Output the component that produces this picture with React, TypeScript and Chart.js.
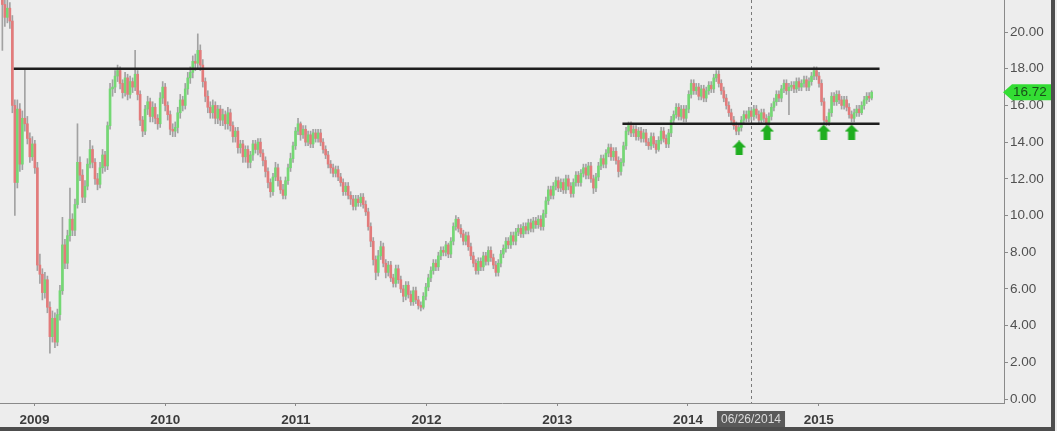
import React, { useEffect, useRef } from 'react';
import { Chart, registerables } from 'chart.js';

Chart.register(...registerables);

// ---- data (weekly bars, first week starting 2008-10-03) ----
const weekStartDate = '2008-10-03';
const firstOpen = 22.2;

const closes = [
  21.5, 20.8, 21.3, 20.6, 16.0, 11.8, 15.8, 12.8, 15.3, 15.0,
  14.2, 13.2, 13.9, 12.6, 7.3, 6.8, 5.8, 6.5, 5.0, 3.4,
  4.4, 3.1, 4.6, 5.9, 8.4, 7.4, 8.9, 9.8, 9.2, 10.6,
  12.9, 12.2, 11.0, 11.6, 12.8, 13.6, 12.9, 12.0, 11.7, 12.6,
  13.3, 12.7, 14.9, 16.9, 17.0, 17.6, 17.9, 17.2, 16.7, 17.5,
  16.6, 17.3, 17.0, 17.7, 16.6, 15.2, 14.6, 15.8, 16.2, 15.4,
  15.9, 15.3, 15.0, 16.4, 17.0, 16.0, 15.5, 14.7, 14.6, 14.8,
  15.6, 16.3, 16.0, 16.9, 17.5, 17.8, 18.4, 18.3, 19.0, 18.2,
  17.3, 16.5, 15.9, 15.6, 16.0, 15.3, 15.8, 15.2, 15.5, 15.0,
  15.6, 14.9, 14.3, 14.6, 13.7, 13.9, 13.2, 13.6, 12.9, 13.3,
  13.9, 13.6, 14.0, 13.4, 13.0, 12.4, 11.8, 11.3, 12.1, 12.6,
  11.9, 11.4, 11.1, 11.9, 12.6, 13.1, 13.8, 14.6, 15.0, 14.4,
  14.7, 14.0, 14.4, 13.9, 14.5, 14.2, 14.5, 14.0, 13.6, 13.3,
  12.8, 12.6, 12.3, 12.5, 12.1, 11.8, 11.3, 11.6, 11.1, 10.9,
  10.5, 10.9, 10.7, 11.0, 10.6, 10.2, 9.4, 8.6, 7.6, 6.9,
  7.8, 8.3, 7.4, 6.9, 7.3, 6.6, 6.3, 7.1, 6.5, 6.0,
  5.6, 6.2, 5.7, 5.3, 5.9, 5.4, 5.1, 5.0, 5.6, 6.1,
  6.6, 7.0, 7.4, 7.2, 7.8, 8.1, 8.0, 8.4, 7.9, 8.6,
  9.4, 9.8, 9.3, 9.0, 8.6, 8.9, 8.3, 7.8, 7.4, 7.0,
  7.5, 7.2, 7.8, 7.5, 8.1, 7.7, 7.3, 6.9, 7.4, 7.9,
  8.2, 8.6, 8.4, 8.9, 8.6, 9.1, 9.3, 9.0, 9.4, 9.2,
  9.6, 9.3, 9.7, 9.5, 9.8, 9.4, 10.1, 10.8, 11.4, 11.1,
  11.6, 11.9, 11.5, 11.8, 11.4, 12.0, 11.6, 11.2, 11.8, 12.2,
  11.8, 12.3, 12.6, 12.2, 12.7, 12.0, 11.5, 12.1, 12.7, 13.1,
  12.8, 13.4, 13.7, 13.2, 13.5, 13.0, 12.4, 12.9, 13.8, 14.6,
  14.9, 14.5, 14.7, 14.3, 14.6, 14.2, 14.5, 14.0, 13.8, 14.3,
  13.9, 13.6, 14.1, 14.6, 14.2, 13.9, 14.5, 15.2, 15.5, 15.9,
  15.4, 15.8, 15.3, 15.8, 16.6, 17.2, 16.8, 17.0, 16.5, 16.9,
  16.4, 16.8, 17.1, 16.9, 17.5, 17.7, 17.2, 16.8, 16.4, 16.0,
  15.6, 15.2, 14.9, 14.6, 14.8, 15.2, 15.5, 15.3, 15.7, 15.4,
  15.8, 15.5, 15.2, 15.6, 15.3, 15.0, 15.4, 15.9, 16.2, 16.6,
  16.4, 16.9, 17.2, 16.8, 17.0, 17.1, 16.9, 17.3, 17.0, 17.2,
  17.4, 17.0, 17.3, 17.6, 17.9, 17.6, 17.2, 16.2, 15.2, 15.1,
  15.6, 16.5, 16.2, 16.6, 16.3, 16.0, 16.3, 15.9, 15.5, 15.3,
  15.6, 15.8, 15.6, 16.0, 16.3, 16.5, 16.4, 16.72,
];

const highs = [
  22.8, 22.0, 21.9, 21.6, 20.9, 16.3, 16.3, 16.1, 15.7, 18.0,
  15.4, 14.5, 14.3, 14.1, 12.9, 7.9, 7.1, 6.9, 6.7, 5.3,
  4.8, 4.7, 4.9, 6.2, 9.9, 8.7, 9.2, 11.5, 10.1, 10.9,
  15.0, 13.2, 12.5, 11.9, 13.1, 14.1, 13.8, 13.1, 12.3, 12.9,
  13.6, 13.5, 15.1, 17.2, 17.4, 17.9, 18.2, 18.1, 17.4, 17.8,
  17.7, 17.6, 17.5, 19.0, 17.9, 16.8, 15.4, 16.0, 16.5, 16.4,
  16.2, 16.1, 15.5, 16.7, 17.3, 17.2, 16.2, 15.7, 15.0, 15.1,
  15.9, 16.6, 16.5, 17.2, 17.8, 18.1, 18.7, 18.8, 19.9, 19.3,
  18.5, 17.5, 16.8, 16.2, 16.3, 16.2, 16.0, 16.0, 15.8, 15.7,
  15.9, 15.8, 15.1, 14.8, 14.8, 14.1, 14.1, 13.8, 13.8, 13.5,
  14.1, 14.1, 14.2, 14.2, 13.6, 13.2, 12.6, 12.0, 12.3, 12.9,
  12.8, 12.1, 11.7, 12.1, 12.8, 13.4, 14.0, 14.8, 15.3, 15.1,
  14.9, 14.9, 14.6, 14.6, 14.7, 14.7, 14.7, 14.7, 14.2, 13.8,
  13.5, 13.0, 12.8, 12.7, 12.7, 12.3, 12.0, 11.8, 11.8, 11.3,
  11.1, 11.1, 11.1, 11.2, 11.2, 10.8, 10.4, 9.6, 8.8, 7.8,
  8.1, 8.6, 8.5, 7.6, 7.5, 7.5, 6.8, 7.3, 7.3, 6.7,
  6.2, 6.4, 6.4, 5.9, 6.1, 6.1, 5.6, 5.3, 5.8, 6.3,
  6.8, 7.2, 7.6, 7.6, 8.0, 8.3, 8.3, 8.6, 8.5, 8.8,
  9.6, 10.0, 9.9, 9.5, 9.2, 9.1, 9.1, 8.5, 8.0, 7.6,
  7.7, 7.7, 8.0, 8.0, 8.3, 8.3, 7.9, 7.5, 7.6, 8.1,
  8.4, 8.8, 8.8, 9.1, 9.1, 9.3, 9.5, 9.5, 9.6, 9.6,
  9.8, 9.8, 9.9, 9.9, 10.0, 10.0, 10.3, 11.0, 11.6, 11.6,
  11.8, 12.1, 12.1, 12.0, 12.0, 12.2, 12.2, 11.8, 12.0, 12.4,
  12.4, 12.5, 12.8, 12.8, 12.9, 12.9, 12.2, 12.3, 12.9, 13.3,
  13.3, 13.6, 13.9, 13.9, 13.7, 13.7, 13.2, 13.1, 14.0, 14.8,
  15.1, 15.1, 14.9, 14.9, 14.8, 14.8, 14.7, 14.7, 14.2, 14.5,
  14.5, 14.1, 14.3, 14.8, 14.8, 14.4, 14.7, 15.4, 15.7, 16.1,
  16.1, 16.0, 16.0, 16.0, 16.8, 17.4, 17.4, 17.2, 17.2, 17.1,
  17.1, 17.0, 17.3, 17.3, 17.7, 17.9, 17.9, 17.4, 17.0, 16.6,
  16.2, 15.8, 15.4, 15.1, 15.0, 15.4, 15.7, 15.7, 15.9, 15.9,
  16.0, 16.0, 15.7, 15.8, 15.8, 15.5, 15.6, 16.1, 16.4, 16.8,
  16.8, 17.1, 17.4, 17.4, 17.2, 17.3, 17.3, 17.5, 17.5, 17.4,
  17.6, 17.6, 17.5, 17.8, 18.1, 18.1, 17.8, 17.4, 16.4, 15.4,
  15.8, 16.7, 16.7, 16.8, 16.8, 16.5, 16.5, 16.5, 16.1, 15.7,
  15.8, 16.0, 16.0, 16.2, 16.5, 16.7, 16.7, 16.8,
];

const lows = [
  19.0, 20.3, 20.5, 20.2, 15.6, 10.0, 11.5, 12.4, 12.5, 14.6,
  13.9, 12.9, 13.0, 12.3, 7.0, 6.3, 5.4, 5.5, 4.7, 2.5,
  3.1, 2.8, 2.9, 4.3, 5.7, 7.1, 7.1, 8.6, 8.9, 8.9,
  10.4, 11.9, 10.7, 10.7, 11.4, 12.6, 12.6, 11.7, 11.4, 11.5,
  12.3, 12.4, 12.5, 14.7, 16.5, 16.7, 17.3, 16.9, 16.4, 16.5,
  16.3, 16.4, 16.7, 16.8, 16.3, 14.9, 14.3, 14.4, 15.5, 15.1,
  15.1, 15.0, 14.7, 14.8, 16.1, 15.7, 15.2, 14.4, 14.3, 14.3,
  14.5, 15.3, 15.7, 15.8, 16.6, 17.2, 17.5, 17.9, 18.0, 17.9,
  17.0, 16.2, 15.6, 15.3, 15.3, 15.0, 15.0, 14.9, 14.9, 14.7,
  14.7, 14.6, 14.0, 14.0, 13.4, 13.4, 12.9, 12.9, 12.6, 12.6,
  13.0, 13.4, 13.3, 13.2, 12.7, 12.1, 11.5, 11.0, 11.1, 11.9,
  11.6, 11.2, 10.9, 10.9, 11.7, 12.4, 12.9, 13.6, 14.4, 14.1,
  14.2, 13.8, 13.8, 13.7, 13.7, 14.0, 14.0, 13.8, 13.4, 13.1,
  12.6, 12.3, 12.1, 12.1, 11.9, 11.6, 11.1, 11.1, 10.9, 10.6,
  10.3, 10.3, 10.5, 10.5, 10.4, 10.0, 9.2, 8.3, 7.3, 6.5,
  6.7, 7.6, 7.2, 6.6, 6.7, 6.4, 6.1, 6.1, 6.3, 5.8,
  5.3, 5.4, 5.5, 5.1, 5.1, 5.2, 4.9, 4.8, 4.9, 5.4,
  5.9, 6.4, 6.8, 7.0, 7.0, 7.6, 7.8, 7.8, 7.7, 7.7,
  8.4, 9.2, 9.1, 8.8, 8.4, 8.4, 8.1, 7.6, 7.2, 6.8,
  6.8, 7.0, 7.0, 7.3, 7.3, 7.5, 7.1, 6.7, 6.7, 7.2,
  7.7, 8.0, 8.2, 8.2, 8.4, 8.4, 8.9, 8.8, 8.8, 9.0,
  9.0, 9.1, 9.1, 9.3, 9.3, 9.2, 9.2, 9.9, 10.6, 10.9,
  10.9, 11.4, 11.3, 11.3, 11.2, 11.2, 11.4, 11.0, 11.0, 11.6,
  11.6, 11.6, 12.1, 12.0, 12.0, 11.8, 11.2, 11.3, 11.9, 12.5,
  12.6, 12.6, 13.2, 13.0, 13.0, 12.8, 12.1, 12.2, 12.7, 13.6,
  14.4, 14.3, 14.3, 14.1, 14.1, 14.0, 14.0, 13.8, 13.6, 13.6,
  13.7, 13.4, 13.5, 13.9, 14.0, 13.7, 13.7, 14.3, 15.0, 15.3,
  15.2, 15.2, 15.1, 15.1, 15.6, 16.4, 16.6, 16.6, 16.3, 16.3,
  16.2, 16.2, 16.6, 16.7, 16.7, 17.3, 17.0, 16.6, 16.2, 15.8,
  15.4, 15.0, 14.7, 14.4, 14.4, 14.6, 15.0, 15.1, 15.1, 15.2,
  15.2, 15.3, 15.0, 15.0, 15.1, 14.8, 14.8, 15.2, 15.7, 16.0,
  16.2, 16.2, 16.7, 16.6, 15.5, 16.8, 16.7, 16.7, 16.8, 16.8,
  17.0, 16.8, 16.8, 17.1, 17.4, 17.4, 17.0, 16.0, 15.0, 14.9,
  14.9, 15.4, 16.0, 16.0, 16.1, 15.8, 15.8, 15.7, 15.3, 15.1,
  15.1, 15.4, 15.4, 15.5, 15.8, 16.1, 16.2, 16.3,
];

const yTickValues = [0, 2, 4, 6, 8, 10, 12, 14, 16, 18, 20, 22];
const yearTicks = [2009, 2010, 2011, 2012, 2013, 2014, 2015];

const resistanceLevel = 18;
const resistanceFrom = '2008-11-04';
const supportLevel = 15;
const supportFrom = '2013-07-02';
const levelsTo = '2015-06-20';

const arrowDates = ['2014-05-24', '2014-08-10', '2015-01-15', '2015-04-03'];
const arrowLevels = [13.68, 14.55, 14.55, 14.55];

const markerDate = '2014-06-26';
const markerLabel = '06/26/2014';
const lastPriceLabel = '16.72';

// ---- view ----
const X_MIN = 2008.736;
const X_MAX = 2016.418;
const Y_MIN = -0.218;
const Y_MAX = 22.4;

const FONT = '"Liberation Sans", Arial, sans-serif';
const UP = '#74d874';
const DOWN = '#e37b7b';
const WICK = '#a2a2a2';

const DAY = 86400000;
const parseDay = (s: string) => {
  const [y, m, d] = s.split('-').map(Number);
  return Date.UTC(y, m - 1, d);
};
const decYear = (ms: number) => {
  const y = new Date(ms).getUTCFullYear();
  const s = Date.UTC(y, 0, 1);
  const e = Date.UTC(y + 1, 0, 1);
  return y + (ms - s) / (e - s);
};
const dy = (s: string) => decYear(parseDay(s));

function makeArrow() {
  const c = document.createElement('canvas');
  c.width = 14;
  c.height = 15;
  const g = c.getContext('2d')!;
  g.fillStyle = '#1fae1f';
  g.beginPath();
  g.moveTo(7, 0);
  g.lineTo(14, 7);
  g.lineTo(10.5, 7);
  g.lineTo(10.5, 15);
  g.lineTo(3.5, 15);
  g.lineTo(3.5, 7);
  g.lineTo(0, 7);
  g.closePath();
  g.fill();
  return c;
}

const overlay = {
  id: 'overlay',
  beforeDatasetsDraw(chart: any) {
    const { ctx, chartArea, scales } = chart;
    const px = Math.round(scales.x.getPixelForValue(dy(markerDate))) + 0.5;
    ctx.save();
    ctx.strokeStyle = '#7a7a7a';
    ctx.lineWidth = 1;
    ctx.setLineDash([3, 3]);
    ctx.beginPath();
    ctx.moveTo(px, chartArea.top);
    ctx.lineTo(px, chartArea.bottom);
    ctx.stroke();
    ctx.restore();
  },
  afterDraw(chart: any) {
    const { ctx, chartArea, scales, width } = chart;
    const px = scales.x.getPixelForValue(dy(markerDate));
    ctx.save();
    ctx.font = `12px ${FONT}`;
    const tw = ctx.measureText(markerLabel).width;
    const bw = tw + 8;
    const bh = 16;
    const by = chartArea.bottom + 8;
    ctx.fillStyle = '#5a5a5a';
    ctx.fillRect(px - bw / 2, by, bw, bh);
    ctx.fillStyle = '#dcdcdc';
    ctx.textAlign = 'center';
    ctx.textBaseline = 'middle';
    ctx.fillText(markerLabel, px, by + bh / 2 + 0.5);

    const py = scales.y.getPixelForValue(closes[closes.length - 1]);
    const r = chartArea.right;
    ctx.fillStyle = '#33dd33';
    ctx.beginPath();
    ctx.moveTo(r - 1, py);
    ctx.lineTo(r + 8, py - 8);
    ctx.lineTo(width, py - 8);
    ctx.lineTo(width, py + 8);
    ctx.lineTo(r + 8, py + 8);
    ctx.closePath();
    ctx.fill();
    ctx.fillStyle = '#1a4f1a';
    ctx.textAlign = 'left';
    ctx.font = `13.5px ${FONT}`;
    ctx.fillText(lastPriceLabel, r + 9, py + 0.5);
    ctx.restore();
  },
};

export default function App() {
  const ref = useRef<HTMLCanvasElement>(null);

  useEffect(() => {
    const start = parseDay(weekStartDate);
    const xs = closes.map((_, i) => decYear(start + i * 7 * DAY));
    const opens = closes.map((_, i) => (i === 0 ? firstOpen : closes[i - 1]));
    const bodies = closes.map((c, i) => ({ x: xs[i], y: [opens[i], c] }));
    const wicks = closes.map((_, i) => ({ x: xs[i], y: [lows[i], highs[i]] }));
    const colors = closes.map((c, i) => (c >= opens[i] ? UP : DOWN));
    const arrow = makeArrow();

    const chart = new Chart(ref.current!, {
      type: 'bar',
      data: {
        datasets: [
          {
            type: 'bar',
            data: bodies as any,
            backgroundColor: colors,
            barThickness: 2,
            grouped: false,
            order: 2,
          } as any,
          {
            type: 'bar',
            data: wicks as any,
            backgroundColor: WICK,
            barThickness: 1,
            grouped: false,
            order: 3,
          } as any,
          {
            type: 'line',
            data: [
              { x: dy(resistanceFrom), y: resistanceLevel },
              { x: dy(levelsTo), y: resistanceLevel },
            ],
            borderColor: '#1e1e1e',
            borderWidth: 2.5,
            pointRadius: 0,
            order: 1,
          } as any,
          {
            type: 'line',
            data: [
              { x: dy(supportFrom), y: supportLevel },
              { x: dy(levelsTo), y: supportLevel },
            ],
            borderColor: '#1e1e1e',
            borderWidth: 2.5,
            pointRadius: 0,
            order: 1,
          } as any,
          {
            type: 'scatter',
            data: arrowDates.map((d, i) => ({ x: dy(d), y: arrowLevels[i] })),
            pointStyle: arrow,
            pointRadius: 7,
            order: 0,
          } as any,
        ],
      },
      options: {
        responsive: false,
        animation: false,
        events: [],
        layout: { padding: 0, autoPadding: false },
        plugins: { legend: { display: false }, tooltip: { enabled: false } },
        scales: {
          x: {
            type: 'linear',
            min: X_MIN,
            max: X_MAX,
            offset: false,
            afterBuildTicks: (axis: any) => {
              axis.ticks = yearTicks.map((v) => ({ value: v }));
            },
            afterFit: (axis: any) => {
              axis.height = 24;
              axis.paddingLeft = 0;
              axis.paddingRight = 0;
            },
            grid: {
              offset: false,
              drawOnChartArea: false,
              drawTicks: true,
              tickLength: 3,
              color: '#8a8a8a',
            },
            border: { display: true, color: '#8a8a8a', width: 1 },
            ticks: {
              autoSkip: false,
              maxRotation: 0,
              padding: 6,
              color: '#3c3c3c',
              font: { family: FONT, size: 13.5, weight: 'bold' },
              callback: (v: any) => String(v),
            },
          },
          y: {
            type: 'linear',
            position: 'right',
            min: Y_MIN,
            max: Y_MAX,
            afterBuildTicks: (axis: any) => {
              axis.ticks = yTickValues.map((v) => ({ value: v }));
            },
            afterFit: (axis: any) => {
              axis.width = 47;
              axis.paddingTop = 0;
              axis.paddingBottom = 0;
            },
            grid: {
              drawOnChartArea: false,
              drawTicks: true,
              tickLength: 4,
              color: '#8a8a8a',
            },
            border: { display: true, color: '#8a8a8a', width: 1 },
            ticks: {
              padding: 2,
              color: '#505050',
              font: { family: FONT, size: 13.5 },
              callback: (v: any) => Number(v).toFixed(2),
            },
          },
        },
      } as any,
      plugins: [overlay],
    });
    return () => chart.destroy();
  }, []);

  return (
    <div
      style={{
        position: 'absolute',
        left: 0,
        top: 0,
        width: 1057,
        height: 431,
        background: '#ededed',
        overflow: 'hidden',
      }}
    >
      <canvas
        ref={ref}
        width={1051}
        height={439}
        style={{ position: 'absolute', left: 0, top: -12, width: 1051, height: 439 }}
      />
      <div style={{ position: 'absolute', left: 1051, top: 0, width: 4, height: 431, background: '#4d4d4d' }} />
      <div style={{ position: 'absolute', left: 0, top: 427, width: 1055, height: 4, background: '#4d4d4d' }} />
    </div>
  );
}
